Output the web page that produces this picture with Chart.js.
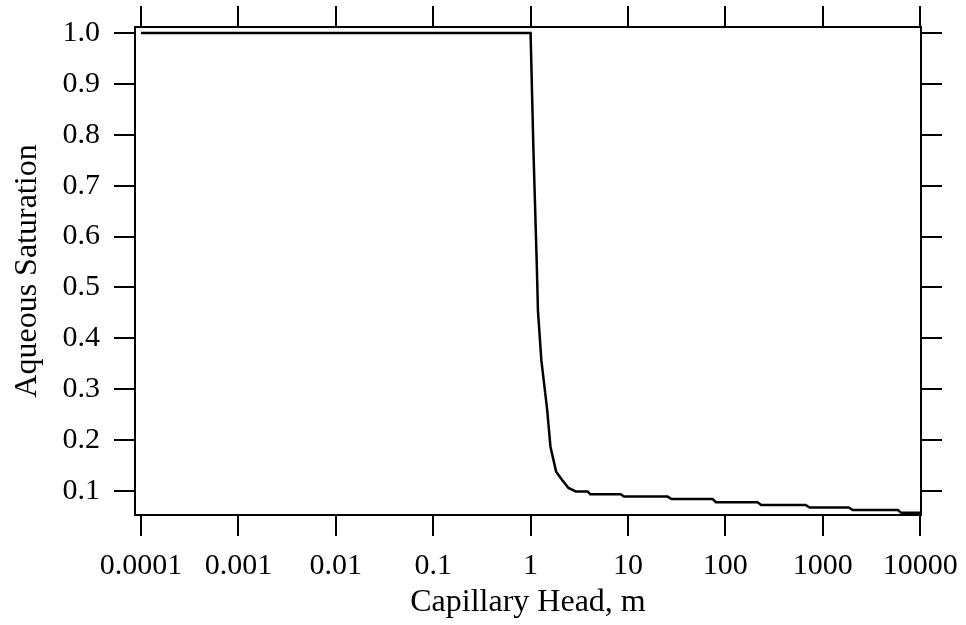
<!DOCTYPE html>
<html>
<head>
<meta charset="utf-8">
<title>Aqueous Saturation</title>
<script src="https://cdn.jsdelivr.net/npm/chart.js@4/dist/chart.umd.min.js"></script>
<style>
	html, body { margin: 0; padding: 0; background: #fff; }
	#chart { display: block; }
</style>
</head>
<body>
<canvas id="chart" width="966" height="625"></canvas>
<script>
// capillary head (m) and aqueous saturation
var capHead = [0.0001, 1.0, 1.07, 1.16, 1.19, 1.29, 1.48, 1.6, 1.83, 2.1, 2.45, 2.9,
	3.85, 4.1, 8.4, 9.1, 25.5, 28, 74, 80, 214, 233, 667, 733, 1850, 2030, 5900, 6400, 10000];
var satur = [1.0, 1.0, 0.77, 0.54, 0.455, 0.357, 0.26, 0.187, 0.138, 0.122, 0.106, 0.099,
	0.099, 0.0935, 0.0935, 0.089, 0.089, 0.084, 0.084, 0.078, 0.078, 0.0725, 0.0725, 0.0675, 0.0675, 0.0625, 0.0625, 0.057, 0.057];

var xTickValues = [0.0001, 0.001, 0.01, 0.1, 1, 10, 100, 1000, 10000];
var xTickLabels = ['0.0001', '0.001', '0.01', '0.1', '1', '10', '100', '1000', '10000'];
var yTickValues = [0.1, 0.2, 0.3, 0.4, 0.5, 0.6, 0.7, 0.8, 0.9, 1.0];
var yTickLabels = ['0.1', '0.2', '0.3', '0.4', '0.5', '0.6', '0.7', '0.8', '0.9', '1.0'];

var _family = "'Liberation Serif', 'Times New Roman', serif";
var _font = { family : _family, size : 30 };
var _titleFont = { family : _family, size : 32 };
var myChart;

function _points() {
	var pts = new Array();
	capHead.forEach(function(item, i) {
		pts.push({ x : item, y : satur[i] });
	});
	return pts;
}

function _setTicks(values) {
	return function(scale) {
		scale.ticks = values.map(function(v) { return { value : v }; });
	};
}

// fixed box size, no extra label padding pushed onto the chart area
function _fixSize(prop, size) {
	return function(scale) {
		scale[prop] = size;
		scale.paddingTop = 0;
		scale.paddingBottom = 0;
		scale.paddingLeft = 0;
		scale.paddingRight = 0;
	};
}

function _axis(extra) {
	var base = {
		border : { display : true, color : '#000', width : 2 },
		grid : { display : true, drawOnChartArea : false, drawTicks : true, tickLength : 21, color : '#000', lineWidth : 2 },
		ticks : { display : false, color : '#000', font : _font, autoSkip : false, minRotation : 0, maxRotation : 0 }
	};
	return Object.assign(base, extra);
}

function createChart(id) {
	var ctx = document.getElementById(id);

	var xOpts = { type : 'logarithmic', min : 8.68e-5, max : 10200 };

	var config = {
		type : 'line',
		data : {
			datasets : [{
				data : _points(),
				borderColor : '#000',
				borderWidth : 2.5,
				pointRadius : 0,
				fill : false,
				tension : 0
			}]
		},
		options : {
			responsive : false,
			animation : false,
			layout : { padding : 0 },
			plugins : { legend : { display : false }, tooltip : { enabled : false } },
			scales : {
				x : _axis(Object.assign({}, xOpts, {
					position : 'bottom',
					afterBuildTicks : _setTicks(xTickValues),
					afterFit : _fixSize('height', 110),
					title : { display : true, text : 'Capillary Head, m', color : '#000', font : _titleFont, padding : { top : 0, bottom : 3 } }
				})),
				x2 : _axis(Object.assign({}, xOpts, {
					position : 'top',
					afterBuildTicks : _setTicks(xTickValues),
					afterFit : _fixSize('height', 27)
				})),
				y : _axis({
					type : 'linear', min : 0.0528, max : 1.0118,
					position : 'left',
					afterBuildTicks : _setTicks(yTickValues),
					afterFit : _fixSize('width', 135),
					title : { display : true, text : 'Aqueous Saturation', color : '#000', font : _titleFont, padding : { top : 8, bottom : 0 } }
				}),
				y2 : _axis({
					type : 'linear', min : 0.0528, max : 1.0118,
					position : 'right',
					afterBuildTicks : _setTicks(yTickValues),
					afterFit : _fixSize('width', 45)
				})
			}
		}
	};

	config.options.scales.x.ticks = Object.assign({}, config.options.scales.x.ticks, {
		display : true, padding : 12,
		callback : function(value, index) { return xTickLabels[index]; }
	});
	config.options.scales.y.ticks = Object.assign({}, config.options.scales.y.ticks, {
		display : true, padding : 14,
		callback : function(value, index) { return yTickLabels[index]; }
	});

	myChart = new Chart(ctx, config);
}

createChart('chart');
</script>
</body>
</html>
